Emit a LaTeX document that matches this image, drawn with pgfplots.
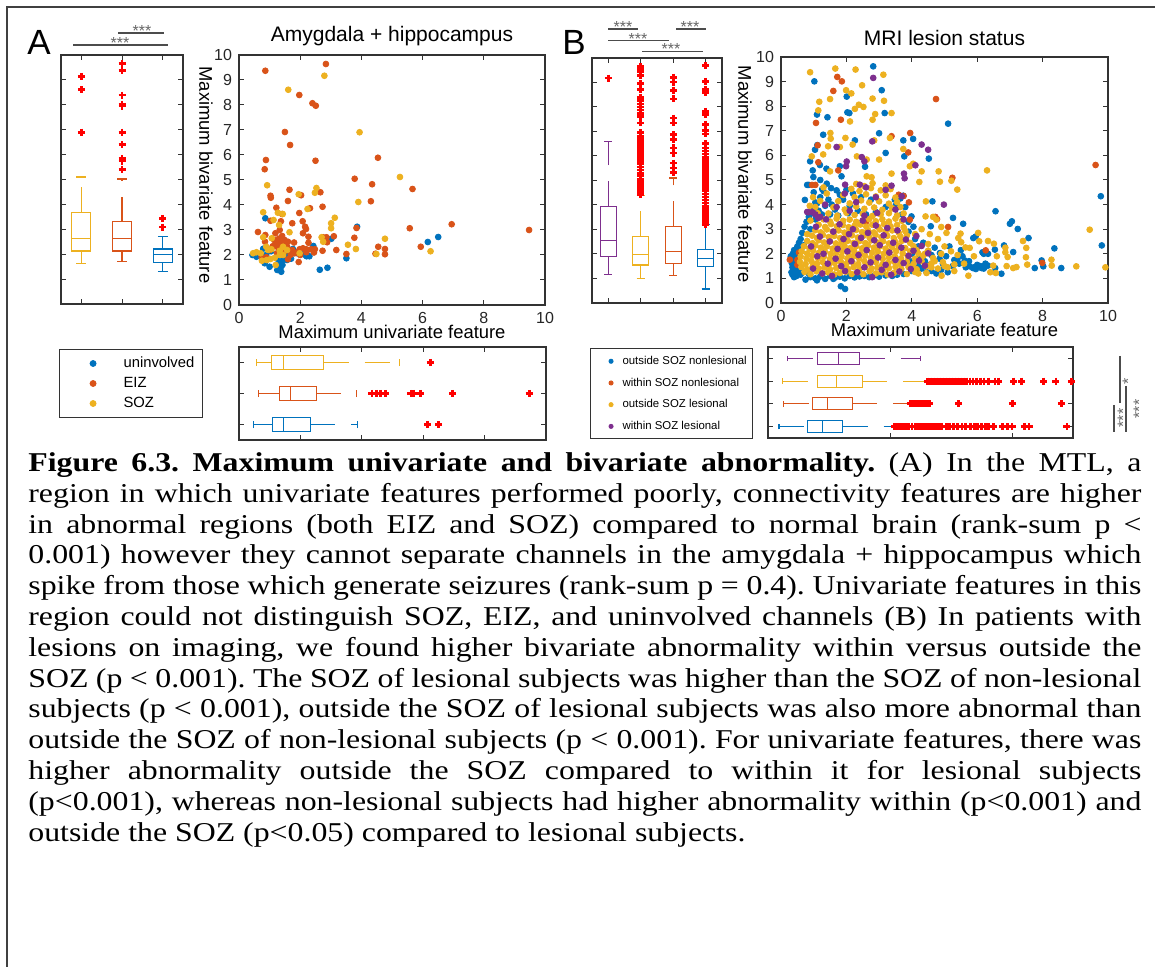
\documentclass[border=0pt]{standalone}
\usepackage{fontspec}
\setmainfont{Liberation Sans}
\newfontfamily\capfont[FakeStretch=1.17]{Liberation Serif}
\usepackage{pgfplots}
\pgfplotsset{compat=1.18}
\usepgfplotslibrary{statistics}
\definecolor{mblue}{rgb}{0,0.447,0.741}
\definecolor{morange}{rgb}{0.85,0.325,0.098}
\definecolor{myellow}{rgb}{0.929,0.694,0.125}
\definecolor{mpurple}{rgb}{0.494,0.184,0.556}
\pgfplotsset{
  every axis title shift=0pt,
  mbase/.style={scale only axis, anchor=north west,
    axis line style={draw=black!80,line width=0.6pt},
    every tick/.style={draw=black!80,line width=0.5pt},
    tick align=inside, major tick length=2.6pt,
    /pgf/number format/assume math mode=true,
    ticklabel style={font=\fontsize{8}{9}\selectfont, text=black!85},
    label style={font=\fontsize{9.2}{10}\selectfont},
    title style={font=\fontsize{10.5}{12}\selectfont}},
  mbox/.style={mbase, xticklabels={}, yticklabels={}},
  outl/.style={only marks, mark=+, color=red, mark size=1.75pt, mark options={line width=1.4pt, solid}},
  bp/.style={line width=0.55pt, solid},
  dot/.style={only marks, mark=*, mark size=#1},
  boxplot/draw/lower whisker/.code={%
    \draw[/pgfplots/boxplot/every whisker/.try, dash pattern=on 12.5pt off 8pt]
      (boxplot cs:\pgfplotsboxplotvalue{lower whisker}) -- (boxplot cs:\pgfplotsboxplotvalue{lower quartile});
    \draw[/pgfplots/boxplot/every whisker/.try]
      (boxplot whisker cs:\pgfplotsboxplotvalue{lower whisker},0) -- (boxplot whisker cs:\pgfplotsboxplotvalue{lower whisker},1);
  },
  boxplot/draw/upper whisker/.code={%
    \draw[/pgfplots/boxplot/every whisker/.try, dash pattern=on 12.5pt off 8pt]
      (boxplot cs:\pgfplotsboxplotvalue{upper quartile}) -- (boxplot cs:\pgfplotsboxplotvalue{upper whisker});
    \draw[/pgfplots/boxplot/every whisker/.try]
      (boxplot whisker cs:\pgfplotsboxplotvalue{upper whisker},0) -- (boxplot whisker cs:\pgfplotsboxplotvalue{upper whisker},1);
  },
}
\newcommand\JL[1]{\noindent\strut\makebox[\linewidth][s]{#1}\par}
\begin{document}
\begin{tikzpicture}
\begin{scope}[x=0.5pt,y=-0.5pt]
\useasboundingbox (0,0) rectangle (1155,967);
\fill[white] (0,0) rectangle (1155,967);
\draw[black!75,line width=1pt] (7,967) -- (7,7) -- (1155,7);
\node[font=\fontsize{17.5}{20}\selectfont, anchor=base west, inner sep=0pt] at (27,55) {A};
\node[font=\fontsize{17.5}{20}\selectfont, anchor=base west, inner sep=0pt] at (562,55) {B};
% significance bars A
\draw[black!70,line width=0.65pt] (118,33) -- (164,33) (73,45) -- (168,45);
\node[font=\fontsize{8}{9}\selectfont, text=black!60, anchor=base, inner sep=0pt] at (142,37) {***};
\node[font=\fontsize{8}{9}\selectfont, text=black!60, anchor=base, inner sep=0pt] at (120,49) {***};
% significance bars B
\draw[black!70,line width=0.65pt] (608,29) -- (638,29) (676,29) -- (706,29) (608,40.5) -- (669,40.5) (642,51.7) -- (703,51.7);
\node[font=\fontsize{8}{9}\selectfont, text=black!60, anchor=base, inner sep=0pt] at (623,32.5) {***};
\node[font=\fontsize{8}{9}\selectfont, text=black!60, anchor=base, inner sep=0pt] at (690,32.5) {***};
\node[font=\fontsize{8}{9}\selectfont, text=black!60, anchor=base, inner sep=0pt] at (638,44.2) {***};
\node[font=\fontsize{8}{9}\selectfont, text=black!60, anchor=base, inner sep=0pt] at (671,54.2) {***};
% significance bars right of B horizontal boxplot
\draw[black!70,line width=0.65pt] (1120,356) -- (1120,403) (1114,405) -- (1114,432) (1126,386) -- (1126,432);
\node[font=\fontsize{8}{9}\selectfont, text=black!60, rotate=90, inner sep=0pt] at (1128,381) {*};
\node[font=\fontsize{8}{9}\selectfont, text=black!60, rotate=90, inner sep=0pt] at (1123,418) {***};
\node[font=\fontsize{8}{9}\selectfont, text=black!60, rotate=90, inner sep=0pt] at (1139,409) {***};
% caption
\node[anchor=north west, inner sep=0pt] at (28,449.5) {\parbox[t]{556.5pt}{\capfont\fontsize{13.6}{15.4}\selectfont\parindent=0pt\frenchspacing
\JL{\textbf{Figure 6.3. Maximum univariate and bivariate abnormality.} (A) In the MTL, a}
\JL{region in which univariate features performed poorly, connectivity features are higher}
\JL{in abnormal regions (both EIZ and SOZ) compared to normal brain (rank-sum p <}
\JL{0.001) however they cannot separate channels in the amygdala + hippocampus which}
\JL{spike from those which generate seizures (rank-sum p = 0.4). Univariate features in this}
\JL{region could not distinguish SOZ, EIZ, and uninvolved channels (B) In patients with}
\JL{lesions on imaging, we found higher bivariate abnormality within versus outside the}
\JL{SOZ (p < 0.001). The SOZ of lesional subjects was higher than the SOZ of non-lesional}
\JL{subjects (p < 0.001), outside the SOZ of lesional subjects was also more abnormal than}
\JL{outside the SOZ of non-lesional subjects (p < 0.001). For univariate features, there was}
\JL{higher abnormality outside the SOZ compared to within it for lesional subjects}
\JL{(p<0.001), whereas non-lesional subjects had higher abnormality within (p<0.001) and}
\noindent\strut outside the SOZ (p<0.05) compared to lesional subjects.\par}};
\end{scope}

% ---------------- A: vertical boxplot ----------------
\begin{axis}[mbox, at={(30.5pt,-27.5pt)}, width=61pt, height=124.5pt,
  xmin=0.5, xmax=3.5, ymin=0, ymax=10, xtick={1,2,3}, ytick={1,...,9}, boxplot/draw direction=y]
\addplot[bp, color=myellow, boxplot prepared={draw direction=y, draw position=1, lower whisker=1.61, lower quartile=2.13, median=2.62, upper quartile=3.68, upper whisker=5.1, box extend=0.47, whisker extend=0.24}] coordinates {};
\addplot[bp, color=morange, boxplot prepared={draw direction=y, draw position=2, lower whisker=1.69, lower quartile=2.13, median=2.64, upper quartile=3.31, upper whisker=5.02, box extend=0.47, whisker extend=0.24}] coordinates {};
\addplot[bp, color=mblue, boxplot prepared={draw direction=y, draw position=3, lower whisker=1.3, lower quartile=1.65, median=1.97, upper quartile=2.21, upper whisker=2.7, box extend=0.47, whisker extend=0.24}] coordinates {};
\addplot[outl] coordinates {(1,9.14)(1,8.6)(1,6.9)
 (2,9.65)(2,9.37)(2,8.39)(2,8.03)(2,7.95)(2,6.9)(2,6.39)(2,5.85)(2,5.74)(2,5.41)
 (3,3.44)(3,3.09)};
\end{axis}

% ---------------- A: scatter ----------------
\begin{axis}[mbase, at={(119.5pt,-27.5pt)}, width=153pt, height=125pt,
  xmin=0, xmax=10, ymin=0, ymax=10, xtick={0,2,...,10}, ytick={0,1,...,10},
  title={Amygdala + hippocampus}, title style={at={(0.5,1.076)}, anchor=center, yshift=0pt},
  xlabel={Maximum univariate feature}, xlabel style={at={(axis description cs:0.5,-0.108)}, anchor=center},
  ylabel={Maximum bivariate feature}, ylabel style={at={(axis description cs:-0.108,0.52)}, anchor=center, rotate=180},
  legend style={at={(-0.588,-0.176)}, anchor=north west, draw=black!80, line width=0.5pt, fill=white,
    font=\fontsize{7.4}{8.5}\selectfont, inner xsep=4pt, inner ysep=3.5pt, row sep=3pt,
    nodes={inner sep=0pt, text height=5.5pt, text depth=1.5pt}},
  legend cell align=left,
  legend image code/.code={\path (0pt,0pt) (27.5pt,0pt); \draw[#1] plot coordinates {(12.5pt,0pt)};}]
\addplot[dot=1.45pt, color=mblue] coordinates {(0.86,3.47)(3.86,3.13)(3.02,2.65)(6.17,2.52)(6.51,2.72)(1.76,2.24)(2.43,2.36)(2.15,2.07)(2.18,1.99)(2.21,1.95)(0.79,2.25)(0.44,2.0)(0.57,1.93)(0.84,1.67)(1.0,1.53)(1.25,1.85)(1.25,1.4)(1.36,1.49)(1.38,1.33)(1.42,1.6)(1.44,1.8)(1.57,1.8)(1.60,2.0)(2.64,1.41)(2.89,1.49)(3.51,1.87)(1.90,2.07)(0.89,2.0)(1.7,1.85)(2.3,1.95)(1.05,2.15)(1.35,1.7)};
\addlegendentry{uninvolved}
\addplot[dot=1.45pt, color=morange] coordinates {(2.84,9.64)(0.86,9.37)(1.97,8.4)(2.40,8.07)(2.51,7.97)(1.50,6.92)(1.67,6.4)(0.88,5.8)(0.84,5.43)(2.50,5.77)(4.54,5.89)(3.78,5.05)(4.35,4.83)(5.67,4.64)(1.65,4.61)(1.03,4.37)(1.04,4.29)(2.03,4.39)(2.66,4.51)(1.60,4.16)(4.31,4.15)(2.73,3.93)(2.32,3.87)(1.22,3.89)(1.97,3.68)(1.41,3.64)(1.03,3.37)(1.37,3.35)(1.74,3.27)(2.08,3.35)(2.16,3.13)(2.19,3.04)(3.84,3.08)(3.77,2.69)(5.58,3.07)(6.95,3.23)(9.48,3.0)(0.62,2.92)(0.86,2.8)(1.19,2.87)(1.33,3.0)(2.09,2.87)(2.27,2.73)(2.75,2.71)(2.86,2.71)(3.10,2.75)(2.88,2.51)(2.27,2.49)(0.85,2.53)(1.41,2.76)(1.49,2.6)(1.60,2.53)(1.43,2.47)(1.33,2.49)(1.24,2.33)(1.57,2.33)(1.0,2.2)(1.74,2.2)(1.98,2.23)(2.09,2.27)(2.2,2.23)(2.36,2.23)(2.48,2.23)(2.73,2.17)(3.18,2.2)(3.51,2.04)(4.55,2.33)(4.77,2.24)(4.77,2.03)(4.46,2.05)(5.94,2.33)(0.89,1.91)(0.74,1.91)(1.24,2.07)(1.60,1.83)(1.95,1.72)(1.69,2.01)(1.82,2.07)(1.38,2.13)(2.2,2.11)(1.93,2.13)(1.15,2.6)(1.3,2.65)(1.45,2.4)(1.5,2.15)(1.2,2.45)(1.1,2.35)(1.35,2.25)(1.55,2.5)(2.0,2.0)(2.45,2.1)(1.8,2.5)};
\addlegendentry{EIZ}
\addplot[dot=1.45pt, color=myellow] coordinates {(2.79,9.17)(1.61,8.61)(3.94,6.91)(5.26,5.12)(0.92,4.79)(1.95,4.43)(2.53,4.68)(2.48,4.49)(3.90,4.12)(2.24,3.84)(0.79,3.71)(1.27,3.69)(1.43,3.64)(3.13,3.49)(1.13,3.4)(1.31,3.2)(3.01,3.27)(1.65,2.91)(3.01,3.07)(2.70,2.71)(0.79,2.71)(1.07,2.67)(2.75,2.53)(3.56,2.41)(4.77,2.65)(3.82,2.24)(4.49,2.04)(6.26,2.15)(0.89,2.33)(0.95,2.2)(0.71,2.07)(0.46,2.07)(0.57,2.11)(0.75,1.77)(1.06,2.23)(1.17,1.89)(1.44,2.33)(1.44,2.0)(1.33,2.17)(1.20,1.6)(1.57,2.2)(1.98,2.07)(1.03,1.84)(1.33,2.0)(0.91,1.8)};
\addlegendentry{SOZ}
\end{axis}

% ---------------- A: horizontal boxplot ----------------
\begin{axis}[mbox, at={(119.5pt,-173.5pt)}, width=153.5pt, height=46.5pt,
  xmin=0, xmax=10, ymin=0.5, ymax=3.5, xtick={2,4,6,8}, ytick={1,2,3}, boxplot/draw direction=x]
\addplot[bp, color=mblue, boxplot prepared={draw direction=x, draw position=1, lower whisker=0.46, lower quartile=1.1, median=1.46, upper quartile=2.32, upper whisker=3.87, box extend=0.48, whisker extend=0.24}] coordinates {};
\addplot[bp, color=morange, boxplot prepared={draw direction=x, draw position=2, lower whisker=0.64, lower quartile=1.32, median=1.67, upper quartile=2.51, upper whisker=3.84, box extend=0.48, whisker extend=0.24}] coordinates {};
\addplot[bp, color=myellow, boxplot prepared={draw direction=x, draw position=3, lower whisker=0.57, lower quartile=1.07, median=1.46, upper quartile=2.76, upper whisker=5.24, box extend=0.48, whisker extend=0.24}] coordinates {};
\addplot[outl] coordinates {(6.23,3)(4.33,2)(4.49,2)(4.6,2)(4.76,2)(5.6,2)(5.68,2)(5.9,2)(6.96,2)(9.45,2)(6.14,1)(6.5,1)};
\end{axis}

% ---------------- B: vertical boxplot ----------------
\begin{axis}[mbox, at={(296pt,-29pt)}, width=65pt, height=122.5pt,
  xmin=0.5, xmax=4.5, ymin=0, ymax=10, xtick={1,2,3,4}, ytick={1,...,9}, boxplot/draw direction=y]
\addplot[bp, color=mpurple, boxplot prepared={draw direction=y, draw position=1, lower whisker=1.16, lower quartile=1.90, median=2.54, upper quartile=3.95, upper whisker=6.6, box extend=0.5, whisker extend=0.25}] coordinates {};
\addplot[bp, color=myellow, boxplot prepared={draw direction=y, draw position=2, lower whisker=0.99, lower quartile=1.55, median=1.97, upper quartile=2.73, upper whisker=4.4, box extend=0.5, whisker extend=0.25}] coordinates {};
\addplot[bp, color=morange, boxplot prepared={draw direction=y, draw position=3, lower whisker=1.14, lower quartile=1.63, median=2.11, upper quartile=3.13, upper whisker=5.1, box extend=0.5, whisker extend=0.25}] coordinates {};
\addplot[bp, color=mblue, boxplot prepared={draw direction=y, draw position=4, lower whisker=0.57, lower quartile=1.5, median=1.8, upper quartile=2.2, upper whisker=3.2, box extend=0.5, whisker extend=0.25}] coordinates {};
\addplot[outl] coordinates {(1,9.18)
 (2,4.42)(2,4.55)(2,4.68)(2,4.8)(2,4.93)(2,5.05)(2,5.18)(2,5.3)(2,5.43)(2,5.55)(2,5.68)(2,5.8)(2,5.93)(2,6.05)(2,6.18)(2,6.3)(2,6.43)(2,6.55)(2,6.68)(2,6.8)(2,6.95)(2,7.35)(2,7.6)(2,7.72)(2,7.88)(2,8.0)(2,8.12)(2,8.25)(2,8.4)(2,8.7)(2,8.95)(2,9.3)(2,9.45)(2,9.58)(2,9.66)
 (3,5.33)(3,5.51)(3,5.71)(3,6.12)(3,6.33)(3,6.67)(3,6.87)(3,7.35)(3,7.55)(3,8.33)(3,8.68)(3,9.02)(3,9.22)
 (4,3.2)(4,3.33)(4,3.45)(4,3.58)(4,3.7)(4,3.83)(4,3.95)(4,4.08)(4,4.2)(4,4.33)(4,4.45)(4,4.58)(4,4.7)(4,4.83)(4,4.95)(4,5.08)(4,5.2)(4,5.33)(4,5.45)(4,5.58)(4,5.7)(4,5.83)(4,5.95)(4,6.08)(4,6.2)(4,6.33)(4,6.5)(4,6.9)(4,7.05)(4,7.3)(4,7.7)(4,7.82)(4,8.6)(4,8.7)(4,9.05)(4,9.69)};
\end{axis}

% ---------------- B: scatter ----------------
\begin{axis}[mbase, at={(390.5pt,-28.5pt)}, width=163.5pt, height=123pt,
  xmin=0, xmax=10, ymin=0, ymax=10, xtick={0,2,...,10}, ytick={0,1,...,10},
  title={MRI lesion status}, title style={at={(0.5,1.077)}, anchor=center, yshift=0pt},
  xlabel={Maximum univariate feature}, xlabel style={at={(axis description cs:0.5,-0.11)}, anchor=center},
  ylabel={Maximum bivariate feature}, ylabel style={at={(axis description cs:-0.11,0.524)}, anchor=center, rotate=180},
  legend style={at={(-0.584,-0.184)}, anchor=north west, draw=black!80, line width=0.5pt, fill=white,
    font=\fontsize{5.7}{6.5}\selectfont, inner xsep=3pt, inner ysep=3.5pt, row sep=5.35pt,
    nodes={inner sep=0pt, text height=4.3pt, text depth=1.2pt}},
  legend cell align=left,
  legend image code/.code={\path (0pt,0pt) (12.5pt,0pt); \draw[#1, mark size=1pt] plot coordinates {(7pt,0pt)};}]
\addplot[dot=1.45pt, color=mblue] coordinates {(2.82,9.62)(1.02,9.01)(3.08,8.65)(2.01,8.39)(1.10,7.66)(1.42,7.55)(2.03,7.75)(2.09,7.72)(3.17,7.72)(5.11,7.29)(1.29,6.84)(3.00,6.9)(3.74,6.61)(4.04,6.67)(2.26,6.61)(1.04,6.23)(1.11,6.42)(3.20,6.1)(3.77,5.96)(4.52,5.87)(0.89,5.76)(0.97,5.39)(1.19,5.61)(1.39,5.46)(1.80,5.56)(2.57,5.54)(1.85,5.15)(0.99,5.12)(0.80,4.80)(1.26,4.63)(1.53,4.67)(1.70,4.58)(0.73,4.19)(1.05,4.09)(4.63,4.13)(3.74,4.36)(3.21,4.61)(3.48,4.2)(3.99,3.52)(5.26,3.46)(4.58,3.12)(5.57,3.22)(6.56,3.73)(7.0,3.22)(7.06,3.32)(7.24,3.01)(7.57,2.64)(5.88,2.64)(6.16,2.06)(6.33,2.0)(6.54,2.17)(6.82,2.34)(7.10,2.07)(8.36,2.22)(9.78,4.34)(9.81,2.34)(7.76,1.42)(7.97,1.73)(8.57,1.42)(8.02,1.49)(6.55,1.42)(5.77,1.49)(5.87,1.42)(5.99,1.49)(6.13,1.42)(6.23,1.46)(6.33,1.52)(5.96,1.38)(5.39,1.76)(5.62,1.73)(4.86,2.03)(1.83,0.68)(1.96,0.57)(6.74,1.19)
(0.32,1.25)(0.35,1.45)(0.33,1.62)(0.38,1.8)(0.36,2.0)(0.4,2.15)(0.42,1.35)(0.45,1.55)(0.47,1.72)(0.44,1.92)(0.5,2.3)(0.52,1.2)(0.55,2.45)(0.48,1.1)(0.4,1.05)(0.58,1.4)(0.6,1.15)(0.35,1.15)(0.3,1.9)(0.55,2.1)
(0.75,0.95)(0.9,1.05)(1.05,1.0)(1.2,1.08)(1.35,0.98)(1.5,1.1)(1.65,1.03)(1.8,1.07)(1.95,1.0)(2.1,1.1)(2.25,1.04)(2.4,1.08)(2.55,1.1)(2.7,1.05)(2.85,1.12)(3.0,1.07)(3.2,1.12)(3.4,1.1)(3.55,1.15)(3.75,1.18)(1.1,0.92)(1.6,0.98)(0.85,1.2)
(0.6,2.6)(0.65,2.85)(0.72,3.1)(0.78,3.3)(0.85,3.5)(0.95,3.65)(1.05,3.4)(0.9,3.0)(1.0,3.85)(1.1,4.05)(1.2,4.3)(1.3,4.55)(1.15,3.75)(1.35,3.95)(1.45,4.2)(1.55,4.0)(1.65,3.8)(1.8,4.4)(1.9,4.2)(2.0,4.6)(2.1,3.95)(2.2,4.45)(0.7,2.35)(0.62,2.2)(1.25,3.6)(1.5,3.6)(1.75,3.55)(2.05,3.65)(2.35,3.75)(2.6,3.6)(2.9,3.7)(3.2,3.9)(3.5,3.95)(3.7,3.6)(3.9,3.3)(4.05,3.1)(0.85,4.8)(1.0,4.5)(1.2,5.0)(1.4,4.85)(2.45,4.3)(2.75,4.2)(3.65,4.25)(3.8,3.9)
(3.9,2.9)(4.1,2.6)(4.2,2.3)(4.35,2.45)(4.5,2.1)(4.6,1.95)(4.7,2.25)(4.85,1.8)(4.95,1.6)(5.05,1.9)(5.15,2.3)(5.25,1.5)(5.3,1.75)(5.45,1.6)(5.55,1.9)(5.65,1.45)(5.75,1.7)(4.3,1.4)(4.45,1.25)(4.6,1.3)(4.75,1.2)(4.9,1.35)(5.1,1.25)(4.0,1.3)(4.2,1.5)(4.4,1.7)(4.55,1.55)(4.25,1.9)(4.0,2.0)(3.95,1.7)(5.9,1.45)(6.0,1.55)(6.1,1.5)(6.2,1.4)(6.25,1.6)(5.5,2.15)(5.95,2.7)(6.2,2.0)};
\addlegendentry{outside SOZ nonlesional}
\addplot[dot=1.45pt, color=morange] coordinates {(1.72,9.19)(1.86,9.01)(1.60,8.62)(1.83,7.45)(1.07,7.32)(1.12,6.41)(3.89,6.12)(3.95,6.91)(3.38,6.78)(4.74,8.29)(5.24,5.09)(9.62,5.61)(1.75,5.39)(3.91,4.09)(4.77,3.41)(4.72,3.5)(5.11,3.09)(6.26,2.14)(7.99,1.63)(0.27,1.76)(0.5,1.75)(0.55,2.05)(1.14,5.72)(3.94,3.39)(0.95,4.8)(1.05,4.8)(2.6,3.3)(3.6,4.4)(3.75,4.35)(0.5,1.55)};
\addlegendentry{within SOZ nonlesional}
\addplot[dot=1.45pt, color=myellow] coordinates {(0.89,9.38)(1.66,9.53)(2.28,9.49)(3.13,9.28)(2.48,8.85)(1.99,8.65)(2.15,8.52)(1.17,8.18)(1.50,8.29)(2.80,8.31)(3.15,8.22)(2.38,8.06)(2.52,7.97)(2.26,7.89)(1.14,7.83)(2.88,7.68)(3.38,7.72)(2.11,7.38)(2.80,7.45)(1.51,6.91)(1.97,6.71)(2.19,6.44)(1.52,6.68)(2.85,6.61)(3.33,6.71)(1.44,6.37)(1.80,6.34)(1.29,6.04)(0.94,5.96)(2.32,5.96)(2.62,5.83)(3.00,5.83)(3.74,6.26)(3.94,5.56)(4.04,5.66)(1.50,5.35)(2.62,5.15)(2.77,5.11)(3.38,5.26)(4.30,5.35)(4.86,4.93)(5.21,4.97)(5.39,4.61)(4.82,5.35)(4.43,4.13)(6.30,5.39)(4.23,4.92)(4.42,3.52)(4.65,3.5)(4.75,3.39)(4.90,3.09)(5.06,2.85)(5.42,2.64)(5.49,2.82)(5.51,2.47)(5.64,2.26)(5.77,2.24)(6.03,2.85)(6.06,2.51)(6.33,2.52)(6.51,2.41)(6.86,2.25)(6.86,2.06)(6.93,1.87)(7.40,2.52)(7.50,2.24)(7.49,1.86)(7.53,1.56)(7.10,1.42)(7.20,1.46)(8.27,1.76)(8.28,1.52)(9.03,1.49)(9.44,2.98)(9.92,1.45)(5.73,1.11)(6.49,1.52)(6.57,1.22)(4.91,1.11)(4.45,1.22)
(4.1,2.8)(4.3,3.0)(4.55,2.8)(4.8,2.6)(5.0,2.3)(5.2,2.1)(4.4,2.0)(4.7,1.7)(5.0,1.5)(5.3,1.3)(4.2,1.2)(4.6,1.45)(3.95,1.45)(4.15,2.15)(4.5,2.4)(5.6,1.6)(5.9,1.9)(6.6,1.9)(6.9,1.5)(6.4,1.25)(5.4,1.95)(4.9,2.0)
(0.9,3.35)(1.05,3.9)(1.2,4.15)(0.98,4.3)(1.3,4.7)(0.8,2.8)(1.12,3.65)(1.4,4.45)(0.88,3.95)
(0.72,1.26)(0.9,1.17)(1.08,1.29)(1.27,1.2)(1.44,1.25)(1.63,1.16)(1.8,1.22)(1.98,1.27)(2.16,1.18)(2.35,1.26)(2.52,1.17)(2.71,1.29)(2.9,1.2)(3.07,1.25)(3.26,1.16)(3.45,1.22)(3.62,1.27)(3.85,1.18)(4.1,1.26)
(0.62,1.46)(0.8,1.37)(0.97,1.49)(1.15,1.4)(1.33,1.45)(1.5,1.36)(1.69,1.42)(1.86,1.47)(2.05,1.38)(2.22,1.46)(2.4,1.37)(2.58,1.49)(2.77,1.4)(2.95,1.45)(3.13,1.36)(3.3,1.42)(3.5,1.47)(3.68,1.38)(3.9,1.46)(4.15,1.37)(4.45,1.49)(4.8,1.4)(5.1,1.45)
(0.58,1.67)(0.75,1.58)(0.93,1.7)(1.1,1.61)(1.28,1.66)(1.47,1.57)(1.64,1.63)(1.83,1.68)(2.0,1.59)(2.18,1.67)(2.36,1.58)(2.55,1.7)(2.73,1.61)(2.9,1.66)(3.1,1.57)(3.28,1.63)(3.46,1.68)(3.65,1.59)(3.85,1.67)(4.05,1.58)(4.3,1.7)(4.6,1.61)(4.95,1.66)(5.3,1.57)
(0.6,1.89)(0.78,1.8)(0.95,1.92)(1.13,1.83)(1.31,1.88)(1.5,1.79)(1.67,1.85)(1.85,1.9)(2.03,1.81)(2.21,1.89)(2.39,1.8)(2.57,1.92)(2.75,1.83)(2.93,1.88)(3.11,1.79)(3.3,1.85)(3.48,1.9)(3.67,1.81)(3.88,1.89)(4.1,1.8)(4.35,1.92)(4.65,1.83)
(0.63,2.1)(0.8,2.01)(0.98,2.13)(1.16,2.04)(1.34,2.09)(1.52,2.0)(1.7,2.06)(1.88,2.11)(2.06,2.02)(2.24,2.1)(2.42,2.01)(2.6,2.13)(2.78,2.04)(2.96,2.09)(3.14,2.0)(3.32,2.06)(3.52,2.11)(3.72,2.02)(3.95,2.1)(4.2,2.01)(4.5,2.13)
(0.7,2.31)(0.87,2.22)(1.05,2.34)(1.22,2.25)(1.4,2.3)(1.58,2.21)(1.76,2.27)(1.94,2.32)(2.12,2.23)(2.3,2.31)(2.48,2.22)(2.66,2.34)(2.84,2.25)(3.02,2.3)(3.2,2.21)(3.4,2.27)(3.6,2.32)(3.8,2.23)(4.05,2.31)
(0.8,2.52)(0.97,2.43)(1.15,2.55)(1.32,2.46)(1.5,2.51)(1.68,2.42)(1.86,2.48)(2.04,2.53)(2.22,2.44)(2.4,2.52)(2.58,2.43)(2.76,2.55)(2.94,2.46)(3.12,2.51)(3.3,2.42)(3.5,2.48)(3.7,2.53)(3.95,2.44)
(0.95,2.74)(1.1,2.65)(1.28,2.77)(1.46,2.68)(1.63,2.73)(1.81,2.64)(1.99,2.7)(2.17,2.75)(2.35,2.66)(2.53,2.74)(2.71,2.65)(2.89,2.77)(3.07,2.68)(3.25,2.73)(3.45,2.64)(3.65,2.7)(3.85,2.75)
(1.05,2.96)(1.22,2.87)(1.4,2.99)(1.58,2.9)(1.76,2.95)(1.94,2.86)(2.12,2.92)(2.3,2.97)(2.48,2.88)(2.66,2.96)(2.84,2.87)(3.02,2.99)(3.2,2.9)(3.4,2.95)(3.6,2.86)(3.8,2.92)
(1.15,3.18)(1.35,3.09)(1.53,3.21)(1.71,3.12)(1.89,3.17)(2.07,3.08)(2.25,3.14)(2.43,3.19)(2.61,3.1)(2.79,3.18)(2.97,3.09)(3.15,3.21)(3.35,3.12)(3.55,3.17)(3.75,3.08)
(1.3,3.4)(1.5,3.31)(1.7,3.43)(1.9,3.34)(2.1,3.39)(2.3,3.3)(2.5,3.36)(2.7,3.41)(2.9,3.32)(3.1,3.4)(3.3,3.31)(3.5,3.43)(3.7,3.34)
(1.45,3.64)(1.72,3.55)(2.0,3.67)(2.25,3.58)(2.5,3.63)(2.8,3.54)(3.05,3.6)(3.3,3.65)(3.55,3.56)(3.75,3.64)
(1.6,3.89)(1.95,3.8)(2.3,3.92)(2.55,3.83)(2.85,3.88)(3.1,3.79)(3.4,3.85)(3.65,3.9)
(1.75,4.14)(2.1,4.05)(2.45,4.17)(2.7,4.08)(3.0,4.13)(3.3,4.04)(3.55,4.1)
(1.9,4.39)(2.25,4.3)(2.6,4.42)(2.9,4.33)(3.2,4.38)(3.5,4.29)
(2.15,4.64)(2.4,4.55)(2.75,4.67)(3.05,4.58)(3.35,4.63)
(2.3,4.84)(2.55,4.75)(2.8,4.87)(3.2,4.78)};
\addlegendentry{outside SOZ lesional}
\addplot[dot=1.45pt, color=mpurple] coordinates {(2.82,9.15)(2.79,6.57)(2.01,5.75)(1.99,5.56)(2.47,5.93)(2.55,5.76)(4.30,6.44)(4.50,6.23)(4.11,5.60)(3.38,4.77)(3.76,5.26)(3.78,5.07)(4.98,4.0)(0.84,3.69)(1.14,3.46)(1.70,6.34)(2.94,3.66)(2.41,4.81)(1.96,4.81)(3.69,4.34)
(0.92,2.3)(0.98,1.4)(1.07,3.1)(1.11,1.9)(1.19,2.7)(1.26,1.2)(1.3,2.0)(1.38,3.4)(1.43,1.6)(1.49,2.5)(1.56,1.1)(1.6,2.9)(1.67,1.8)(1.73,2.2)(1.79,3.2)(1.84,1.5)(1.91,2.6)(1.96,1.3)(2.03,2.1)(2.08,2.8)(2.15,1.7)(2.2,3.0)(2.26,2.4)(2.33,1.25)(2.37,1.95)(2.45,2.65)(2.5,3.35)(2.55,1.45)(2.62,2.15)(2.66,2.85)(2.74,1.65)(2.79,1.05)(2.85,2.55)(2.9,3.15)(2.97,1.85)(3.02,2.35)(3.08,1.35)(3.14,2.75)(3.2,1.55)(3.25,3.05)(3.31,2.05)(3.37,1.15)(3.43,2.45)(3.5,1.75)(3.56,2.95)(3.62,1.28)(3.68,2.25)(3.75,1.62)(3.82,2.58)(3.9,1.92)(3.97,1.38)(4.05,2.12)(4.14,2.72)(4.22,1.72)(4.3,2.32)(4.4,1.52)(4.5,2.02)
(0.95,3.7)(1.2,3.5)(1.35,4.0)(1.7,3.9)(1.95,4.45)(2.3,4.1)(2.6,4.7)(2.9,4.3)(3.2,4.6)(3.5,3.8)(3.75,3.4)(2.1,3.75)(2.55,3.55)(0.8,3.7)(1.05,3.6)};
\addlegendentry{within SOZ lesional}
\end{axis}

% ---------------- B: horizontal boxplot ----------------
\begin{axis}[mbox, at={(384pt,-173.5pt)}, width=152.5pt, height=45.5pt,
  xmin=0, xmax=12.5, ymin=0.5, ymax=4.5, xtick={5,10}, ytick={1,2,3,4}, boxplot/draw direction=x]
\addplot[bp, color=mblue, boxplot prepared={draw direction=x, draw position=1, lower whisker=0.45, lower quartile=1.61, median=2.24, upper quartile=3.06, upper whisker=5.15, box extend=0.53, whisker extend=0.25}] coordinates {};
\addplot[bp, color=morange, boxplot prepared={draw direction=x, draw position=2, lower whisker=0.64, lower quartile=1.83, median=2.42, upper quartile=3.46, upper whisker=5.8, box extend=0.53, whisker extend=0.25}] coordinates {};
\addplot[bp, color=myellow, boxplot prepared={draw direction=x, draw position=3, lower whisker=0.61, lower quartile=2.04, median=2.81, upper quartile=3.87, upper whisker=6.5, box extend=0.53, whisker extend=0.25}] coordinates {};
\addplot[bp, color=mpurple, boxplot prepared={draw direction=x, draw position=4, lower whisker=0.81, lower quartile=2.04, median=2.9, upper quartile=3.76, upper whisker=6.24, box extend=0.53, whisker extend=0.25}] coordinates {};
\addplot[outl] coordinates {
 (6.52,3)(6.65,3)(6.78,3)(6.9,3)(7.02,3)(7.15,3)(7.28,3)(7.4,3)(7.52,3)(7.65,3)(7.78,3)(7.9,3)(8.02,3)(8.15,3)(8.28,3)(8.4,3)(8.55,3)(8.7,3)(8.85,3)(9.05,3)(9.3,3)(9.45,3)(10.07,3)(10.4,3)(11.3,3)(11.8,3)(12.43,3)
 (5.83,2)(5.93,2)(6.03,2)(6.13,2)(6.23,2)(6.33,2)(6.43,2)(6.53,2)(6.63,2)(7.81,2)(10.01,2)(12.02,2)
 (5.18,1)(5.3,1)(5.42,1)(5.54,1)(5.66,1)(5.78,1)(5.9,1)(6.02,1)(6.14,1)(6.26,1)(6.38,1)(6.5,1)(6.62,1)(6.74,1)(6.86,1)(6.98,1)(7.1,1)(7.3,1)(7.45,1)(7.6,1)(7.75,1)(7.95,1)(8.1,1)(8.3,1)(8.45,1)(8.6,1)(8.75,1)(8.9,1)(9.05,1)(9.25,1)(9.6,1)(9.8,1)(10.0,1)(10.5,1)(10.7,1)(12.25,1)};
\end{axis}
\end{tikzpicture}
\end{document}
